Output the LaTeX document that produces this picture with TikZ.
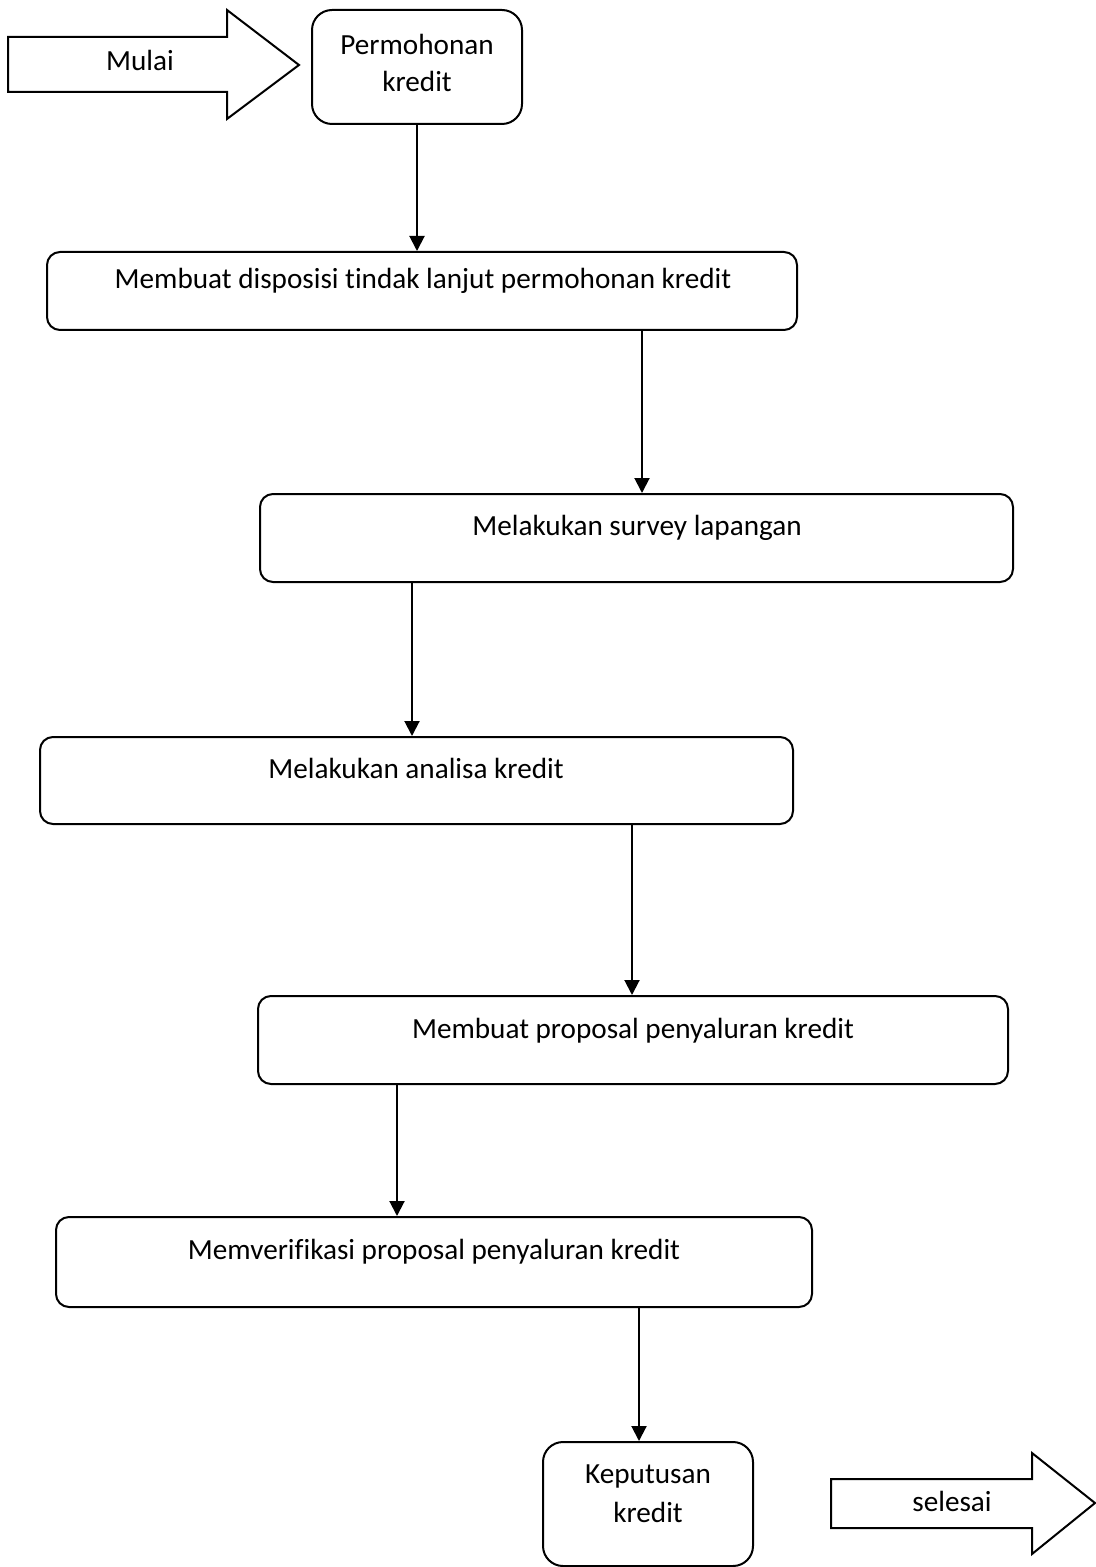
\documentclass[tikz,border=0pt]{standalone}
\usepackage{fontspec}
\setmainfont[Ligatures=NoCommon]{Carlito}
\usetikzlibrary{arrows.meta,fit}
\tikzset{
  kotak/.style={draw,line width=1pt,rounded corners=6.5pt,inner sep=0pt},
  kotakbulat/.style={kotak,rounded corners=10pt},
  teks/.style={anchor=base,inner sep=0pt},
  blokpanah/.style={draw,line width=1pt,line join=miter}
}
\begin{document}
\begin{tikzpicture}[x=0.5pt,y=-0.5pt,>={Triangle[length=7.5pt,width=7.5pt]},line width=1pt,
  font=\fontsize{14.6pt}{19pt}\selectfont]
\useasboundingbox (0,0) rectangle (1096,1567);
% panah mulai
\draw[blokpanah] (8,37) -- (227,37) -- (227,10) -- (299,65) -- (227,119) -- (227,92) -- (8,92) -- cycle;
\node[teks] (mulai) at (140,71) {Mulai};
% kotak-kotak proses
\node[kotakbulat,fit={(312,10) (522,124)}] (b1) {};
\node[teks] (t1a) at (417,55) {Permohonan};
\node[teks] (t1b) at (417,92) {kredit};
\node[kotak,fit={(47,252) (797,330)}] (b2) {};
\node[teks] (t2) at (423,289) {Membuat disposisi tindak lanjut permohonan kredit};
\node[kotak,fit={(260,494) (1013,582)}] (b3) {};
\node[teks] (t3) at (637,535) {Melakukan survey lapangan};
\node[kotak,fit={(40,737) (793,824)}] (b4) {};
\node[teks] (t4) at (416,778) {Melakukan analisa kredit};
\node[kotak,fit={(258,996) (1008,1084)}] (b5) {};
\node[teks] (t5) at (633,1038) {Membuat proposal penyaluran kredit};
\node[kotak,fit={(56,1217) (812,1307)}] (b6) {};
\node[teks] (t6) at (434,1259) {Memverifikasi proposal penyaluran kredit};
\node[kotakbulat,fit={(543,1442) (753,1566)}] (b7) {};
\node[teks] (t7a) at (648,1483) {Keputusan};
\node[teks] (t7b) at (648,1522) {kredit};
% panah selesai
\draw[blokpanah] (831,1479) -- (1032,1479) -- (1032,1453) -- (1095,1503) -- (1032,1554) -- (1032,1528) -- (831,1528) -- cycle;
\node[teks] (selesai) at (952,1511) {selesai};
% alur
\draw[->] (b1.south) -- (b1.south |- b2.north);
\draw[->] (b2.south -| 642,0) -- (b3.north -| 642,0);
\draw[->] (b3.south -| 412,0) -- (b4.north -| 412,0);
\draw[->] (b4.south -| 632,0) -- (b5.north -| 632,0);
\draw[->] (b5.south -| 397,0) -- (b6.north -| 397,0);
\draw[->] (b6.south -| 639,0) -- (b7.north -| 639,0);
\end{tikzpicture}
\end{document}
